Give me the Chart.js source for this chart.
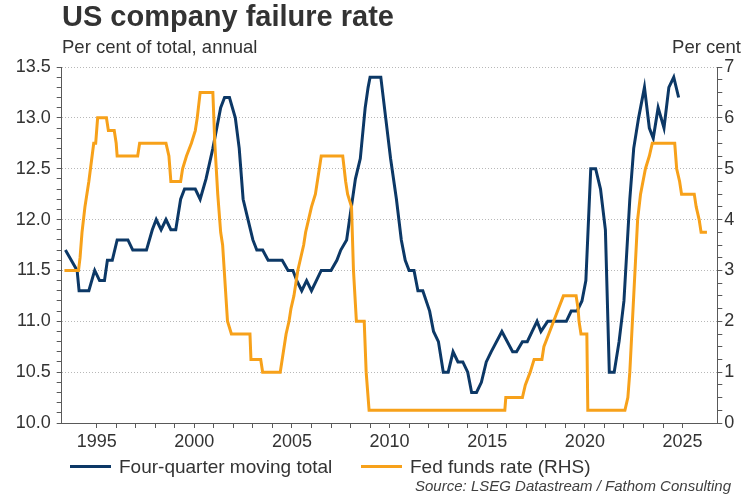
<!DOCTYPE html>
<html>
<head>
<meta charset="utf-8">
<title>US company failure rate</title>
<script src="https://cdn.jsdelivr.net/npm/chart.js@4.4.1/dist/chart.umd.min.js"></script>
<style>
  body { margin: 0; background: #fff; }
  #wrap { position: relative; width: 750px; height: 500px; font-family: "Liberation Sans", Arial, sans-serif; color: #333; }
  #chart { position: absolute; left: 0; top: 0; }
  .txt { position: absolute; white-space: nowrap; line-height: 1; }
  #title { left: 62px; top: 2px; font-size: 29px; font-weight: bold; }
  #sub { left: 62px; top: 38px; font-size: 18.5px; }
  #unit { right: 9px; top: 38px; font-size: 18.5px; }
  #source { right: 19px; top: 478px; font-size: 15px; font-style: italic; color: #404040; }
  .key { position: absolute; top: 457px; height: 19px; font-size: 19px; line-height: 19px; white-space: nowrap; }
  .key span { position: absolute; left: 0; top: 8px; width: 41px; height: 3px; }
  .key b { position: absolute; left: 49px; top: 0; font-weight: normal; }
</style>
</head>
<body>
<div id="wrap">
  <canvas id="chart" width="750" height="500"></canvas>
  <div class="txt" id="title">US company failure rate</div>
  <div class="txt" id="sub">Per cent of total, annual</div>
  <div class="txt" id="unit">Per cent</div>
  <div class="key" style="left:70px"><span style="background:#0c3866"></span><b>Four-quarter moving total</b></div>
  <div class="key" style="left:361px"><span style="background:#f7a11a"></span><b>Fed funds rate (RHS)</b></div>
  <div class="txt" id="source">Source: LSEG Datastream / Fathom Consulting</div>
</div>
<script>
// failure rate, four-quarter moving total (left axis)
const failYears = [
  1993.4, 1994.0, 1994.1, 1994.6, 1994.9, 1995.15, 1995.4, 1995.55, 1995.8, 1996.05,
  1996.6, 1996.85, 1997.55, 1997.85, 1998.05, 1998.3, 1998.55, 1998.8, 1999.05, 1999.3,
  1999.5, 2000.05, 2000.3, 2000.6, 2000.95, 2001.35, 2001.55, 2001.8, 2002.1, 2002.3,
  2002.5, 2002.75, 2003.0, 2003.2, 2003.5, 2003.78, 2004.5, 2004.8, 2005.05, 2005.25,
  2005.5, 2005.75, 2006.0, 2006.25, 2006.5, 2007.0, 2007.3, 2007.5, 2007.8, 2007.95,
  2008.25, 2008.5, 2008.75, 2008.9, 2009.0, 2009.55, 2009.8, 2010.05, 2010.35, 2010.6,
  2010.8, 2011.0, 2011.25, 2011.45, 2011.7, 2012.05, 2012.25, 2012.5, 2012.75, 2013.0,
  2013.25, 2013.5, 2013.75, 2014.0, 2014.2, 2014.45, 2014.7, 2014.95, 2015.2, 2015.75,
  2016.3, 2016.5, 2016.8, 2017.05, 2017.3, 2017.55, 2017.75, 2018.1, 2019.05, 2019.3,
  2019.6, 2019.85, 2020.05, 2020.3, 2020.55, 2020.8, 2021.05, 2021.25, 2021.5, 2021.75,
  2022.0, 2022.3, 2022.5, 2022.75, 2023.05, 2023.3, 2023.5, 2023.75, 2024.05, 2024.3,
  2024.55, 2024.8
];
const failRate = [
  11.7, 11.5, 11.3, 11.3, 11.5, 11.4, 11.4, 11.6, 11.6, 11.8,
  11.8, 11.7, 11.7, 11.9, 12.0, 11.9, 12.0, 11.9, 11.9, 12.2,
  12.3, 12.3, 12.2, 12.4, 12.7, 13.1, 13.2, 13.2, 13.0, 12.7,
  12.2, 12.0, 11.8, 11.7, 11.7, 11.6, 11.6, 11.5, 11.5, 11.4,
  11.3, 11.4, 11.3, 11.4, 11.5, 11.5, 11.6, 11.7, 11.8, 12.0,
  12.4, 12.6, 13.1, 13.3, 13.4, 13.4, 13.0, 12.6, 12.2, 11.8,
  11.6, 11.5, 11.5, 11.3, 11.3, 11.1, 10.9, 10.8, 10.5, 10.5,
  10.7, 10.6, 10.6, 10.5, 10.3, 10.3, 10.4, 10.6, 10.7, 10.9,
  10.7, 10.7, 10.8, 10.8, 10.9, 11.0, 10.9, 11.0, 11.0, 11.1,
  11.1, 11.2, 11.4, 12.5, 12.5, 12.3, 11.9, 10.5, 10.5, 10.8,
  11.2, 12.2, 12.7, 13.0, 13.3, 12.9, 12.8, 13.1, 12.9, 13.3,
  13.4, 13.2
];

// fed funds rate, upper bound (right axis)
const fedYears = [
  1993.35, 1994.07, 1994.15, 1994.25, 1994.4, 1994.6, 1994.85, 1994.95, 1995.05, 1995.5,
  1995.6, 1995.9, 1996.0, 1996.05, 1997.1, 1997.2, 1998.55, 1998.7, 1998.8, 1999.3,
  1999.4, 1999.6, 1999.85, 2000.05, 2000.15, 2000.3, 2000.95, 2001.05, 2001.2, 2001.35,
  2001.45, 2001.7, 2001.9, 2002.85, 2002.9, 2003.4, 2003.5, 2004.4, 2004.5, 2004.6,
  2004.7, 2004.85, 2004.95, 2005.1, 2005.2, 2005.3, 2005.45, 2005.6, 2005.7, 2005.85,
  2006.0, 2006.2, 2006.3, 2006.4, 2006.5, 2007.6, 2007.75, 2007.85, 2008.05, 2008.15,
  2008.3, 2008.7, 2008.8, 2008.95, 2015.9, 2015.95, 2016.8, 2016.95, 2017.2, 2017.4,
  2017.8, 2017.9, 2018.15, 2018.4, 2018.65, 2018.9, 2019.55, 2019.65, 2019.7, 2019.8,
  2020.1, 2020.15, 2022.05, 2022.2, 2022.3, 2022.4, 2022.5, 2022.6, 2022.7, 2022.85,
  2023.1, 2023.3, 2023.45, 2024.6, 2024.7, 2024.85, 2024.95, 2025.6, 2025.7, 2025.85,
  2025.95, 2026.25
];
const fedRate = [
  3.0, 3.0, 3.25, 3.75, 4.25, 4.75, 5.5, 5.5, 6.0, 6.0,
  5.75, 5.75, 5.5, 5.25, 5.25, 5.5, 5.5, 5.25, 4.75, 4.75,
  5.0, 5.25, 5.5, 5.75, 6.0, 6.5, 6.5, 5.5, 4.5, 3.75,
  3.5, 2.0, 1.75, 1.75, 1.25, 1.25, 1.0, 1.0, 1.25, 1.5,
  1.75, 2.0, 2.25, 2.5, 2.75, 3.0, 3.25, 3.5, 3.75, 4.0,
  4.25, 4.5, 4.75, 5.0, 5.25, 5.25, 4.75, 4.5, 4.25, 3.0,
  2.0, 2.0, 1.0, 0.25, 0.25, 0.5, 0.5, 0.75, 1.0, 1.25,
  1.25, 1.5, 1.75, 2.0, 2.25, 2.5, 2.5, 2.25, 2.0, 1.75,
  1.75, 0.25, 0.25, 0.5, 1.0, 1.75, 2.5, 3.25, 4.0, 4.5,
  5.0, 5.25, 5.5, 5.5, 5.0, 4.75, 4.5, 4.5, 4.25, 4.0,
  3.75, 3.75
];

const leftTicks = { min: 10, max: 13.5, step: 0.1 };
const rightTicks = { min: 0, max: 7, step: 0.25 };
const yearRange = { min: 1993.21, max: 2026.78 };

const navy = "#0c3866";
const orange = "#f7a11a";
const axisGrey = "#595959";
const fontFamily = "'Liberation Sans', Arial, sans-serif";

const isMultiple = (v, m) => Math.abs(v / m - Math.round(v / m)) < 1e-6;

const ctx = document.getElementById("chart");

new Chart(ctx, {
  type: "line",
  data: {
    datasets: [
      {
        label: "Four-quarter moving total",
        data: failYears.map((x, i) => ({ x: x, y: failRate[i] })),
        yAxisID: "y",
        borderColor: navy,
        backgroundColor: navy,
        borderWidth: 3,
        pointRadius: 0,
        order: 1
      },
      {
        label: "Fed funds rate (RHS)",
        data: fedYears.map((x, i) => ({ x: x, y: fedRate[i] })),
        yAxisID: "y2",
        borderColor: orange,
        backgroundColor: orange,
        borderWidth: 3,
        pointRadius: 0,
        order: 0
      }
    ]
  },
  options: {
    responsive: false,
    animation: false,
    layout: { padding: { top: 67, left: 0, right: 0, bottom: 47 } },
    scales: {
      x: {
        type: "linear",
        min: yearRange.min,
        max: yearRange.max,
        afterBuildTicks: (scale) => {
          scale.ticks = scale.ticks.filter((t) => Number.isInteger(t.value));
        },
        afterFit: (scale) => { scale.height = 30; },
        ticks: {
          stepSize: 1,
          autoSkip: false,
          maxRotation: 0,
          padding: 3,
          color: "#333",
          font: { family: fontFamily, size: 18 },
          callback: (v) => (v % 5 === 0 ? String(v) : "")
        },
        grid: { drawOnChartArea: false, tickLength: 5, tickColor: axisGrey },
        border: { color: axisGrey }
      },
      y: {
        position: "left",
        min: leftTicks.min,
        max: leftTicks.max,
        afterFit: (scale) => { scale.width = 61.7; },
        ticks: {
          stepSize: leftTicks.step,
          autoSkip: false,
          padding: 6,
          color: "#333",
          font: { family: fontFamily, size: 18 },
          callback: (v) => (isMultiple(v, 0.5) ? v.toFixed(1) : "")
        },
        grid: {
          color: (c) => (c.tick && isMultiple(c.tick.value, 0.5) && c.tick.value > 10 ? "#b8b8b8" : "rgba(0,0,0,0)"),
          tickColor: axisGrey,
          tickLength: 5
        },
        border: { color: axisGrey, dash: [1, 2] }
      },
      y2: {
        position: "right",
        min: rightTicks.min,
        max: rightTicks.max,
        afterFit: (scale) => { scale.width = 32.7; },
        ticks: {
          stepSize: rightTicks.step,
          autoSkip: false,
          padding: 2,
          color: "#333",
          font: { family: fontFamily, size: 18 },
          callback: (v) => (Number.isInteger(v) ? String(v) : "")
        },
        grid: { drawOnChartArea: false, tickColor: axisGrey, tickLength: 5 },
        border: { color: axisGrey }
      }
    },
    plugins: {
      legend: { display: false },
      tooltip: { enabled: false }
    }
  }
});
</script>
</body>
</html>
